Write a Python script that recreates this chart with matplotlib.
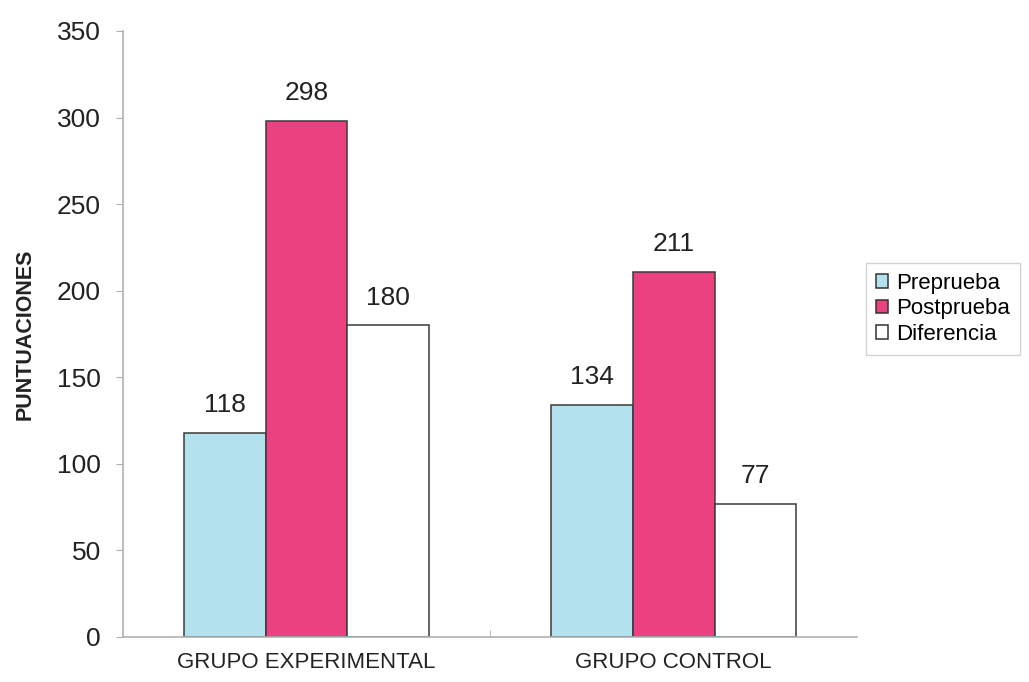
import numpy as np
import matplotlib.pyplot as plt

plt.rcParams['font.family'] = ['Liberation Sans', 'DejaVu Sans']

groups = ['GRUPO EXPERIMENTAL', 'GRUPO CONTROL']
series = ['Preprueba', 'Postprueba', 'Diferencia']
preprueba = [118, 134]
postprueba = [298, 211]
diferencia = [180, 77]
colors = ['#b3e1ee', '#ec4180', '#ffffff']

fig = plt.figure(figsize=(10.29, 6.82), dpi=100)
ax = fig.add_axes([0.1195, 0.066, 0.7135, 0.8886])

x = np.arange(len(groups))
width = 0.223
for i, (name, vals, col) in enumerate(zip(series, [preprueba, postprueba, diferencia], colors)):
    pos = x + (i - 1) * width
    bars = ax.bar(pos, vals, width, color=col, edgecolor='#3a3a3a', linewidth=1.1, label=name)
    for b, v in zip(bars, vals):
        ax.text(b.get_x() + b.get_width() / 2, v + 9, str(v), ha='center', va='bottom',
                fontsize=19, color='#222222')

ax.set_xlim(-0.5, 1.5)
ax.set_ylim(0, 350)
ax.set_yticks(range(0, 351, 50))
ax.set_xticks(x)
ax.set_xticklabels(groups, fontsize=16, color='#222222')
ax.set_xticks([0.5], minor=True)
ax.tick_params(axis='x', which='major', length=0, pad=11)
ax.tick_params(axis='x', which='minor', length=5, color='#b0b0b0', direction='in')
ax.tick_params(axis='y', labelsize=19, labelcolor='#222222', length=5, color='#b0b0b0', pad=11)
ax.set_ylabel('PUNTUACIONES', fontsize=15.5, fontweight='bold', color='#222222', labelpad=15)

for side in ['top', 'right']:
    ax.spines[side].set_visible(False)
for side in ['left', 'bottom']:
    ax.spines[side].set_color('#b0b0b0')
    ax.spines[side].set_linewidth(1.2)

leg = fig.legend(loc='upper left', bbox_to_anchor=(0.8416, 0.6144), fontsize=16, frameon=True,
                 fancybox=False, edgecolor='#c8c8c8', handlelength=0.55, handleheight=0.55,
                 handletextpad=0.35, borderpad=0.45, labelspacing=0.2, borderaxespad=0)
for h in leg.legend_handles:
    h.set_edgecolor('#333333')

fig.savefig('out.png', dpi=100)
